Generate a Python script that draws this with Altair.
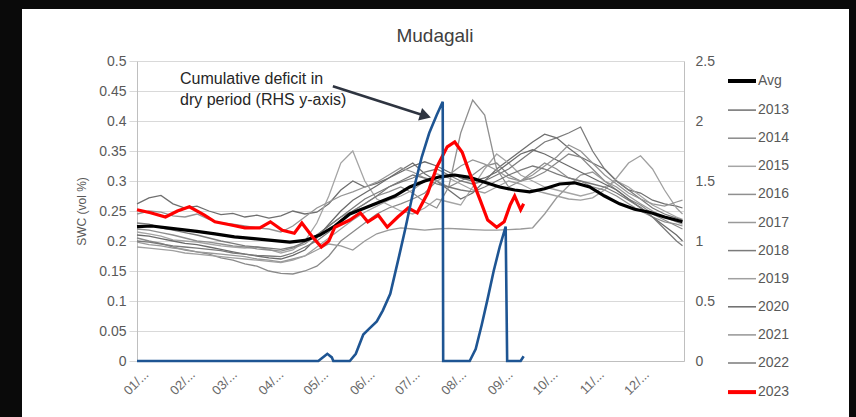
import altair as alt
import pandas as pd

# ---------------- data ----------------
SERIES = ["Avg", "2013", "2014", "2015", "2016", "2017", "2018", "2019", "2020", "2021", "2022", "2023"]
COLORS = ["#000000", "#6f6f6f", "#8a8a8a", "#a5a5a5", "#8f8f8f", "#999999",
          "#7b7b7b", "#a0a0a0", "#6b6b6b", "#959595", "#7a7a7a", "#ff0000"]

GRAY_DAYS = [0, 8, 16, 24, 32, 40, 48, 56, 64, 72, 80, 88, 96, 104, 112, 120, 128, 136, 144, 152,
             160, 168, 176, 184, 192, 200, 208, 216, 224, 232, 240, 248, 256, 264, 272, 280, 288,
             296, 304, 312, 320, 328, 336, 344, 352, 360, 364]

S2013 = [0.262, 0.272, 0.276, 0.262, 0.255, 0.258, 0.250, 0.244, 0.246, 0.240, 0.243, 0.238, 0.242, 0.250, 0.245,
         0.248, 0.262, 0.285, 0.300, 0.290, 0.296, 0.305, 0.318, 0.330, 0.312, 0.300, 0.285, 0.270, 0.280, 0.300,
         0.320, 0.335, 0.350, 0.365, 0.378, 0.372, 0.355, 0.340, 0.330, 0.320, 0.300, 0.285, 0.280, 0.268, 0.262,
         0.258, 0.255]
S2014 = [0.205, 0.200, 0.196, 0.190, 0.185, 0.182, 0.178, 0.172, 0.168, 0.162, 0.158, 0.150, 0.146, 0.145, 0.150,
         0.158, 0.175, 0.200, 0.215, 0.230, 0.245, 0.255, 0.262, 0.270, 0.280, 0.300, 0.290, 0.300, 0.310, 0.325,
         0.330, 0.310, 0.300, 0.305, 0.315, 0.330, 0.345, 0.340, 0.320, 0.300, 0.285, 0.270, 0.260, 0.245, 0.235,
         0.225, 0.220]
S2015 = [0.215, 0.212, 0.208, 0.202, 0.200, 0.198, 0.195, 0.192, 0.190, 0.188, 0.190, 0.186, 0.180, 0.185, 0.200,
         0.230, 0.275, 0.330, 0.350, 0.300, 0.270, 0.260, 0.250, 0.245, 0.255, 0.270, 0.265, 0.260, 0.290, 0.320,
         0.345, 0.330, 0.310, 0.300, 0.290, 0.285, 0.280, 0.275, 0.280, 0.290, 0.300, 0.290, 0.275, 0.260, 0.250,
         0.240, 0.236]
S2016 = [0.220, 0.218, 0.214, 0.210, 0.205, 0.200, 0.198, 0.195, 0.192, 0.190, 0.187, 0.185, 0.183, 0.188, 0.195,
         0.210, 0.225, 0.240, 0.250, 0.262, 0.275, 0.282, 0.290, 0.280, 0.265, 0.255, 0.290, 0.380, 0.435, 0.410,
         0.320, 0.290, 0.300, 0.315, 0.330, 0.320, 0.305, 0.300, 0.290, 0.285, 0.275, 0.262, 0.250, 0.240, 0.232,
         0.228, 0.225]
S2017 = [0.198, 0.194, 0.192, 0.188, 0.186, 0.182, 0.180, 0.178, 0.176, 0.174, 0.170, 0.168, 0.165, 0.170, 0.175,
         0.185, 0.195, 0.192, 0.185, 0.200, 0.212, 0.218, 0.222, 0.220, 0.218, 0.220, 0.221, 0.220, 0.219, 0.218,
         0.218, 0.219, 0.220, 0.222, 0.245, 0.272, 0.292, 0.310, 0.315, 0.300, 0.290, 0.275, 0.262, 0.250, 0.240,
         0.232, 0.228]
S2018 = [0.230, 0.228, 0.222, 0.218, 0.214, 0.210, 0.205, 0.200, 0.196, 0.192, 0.190, 0.188, 0.186, 0.190, 0.198,
         0.210, 0.225, 0.240, 0.255, 0.270, 0.280, 0.290, 0.298, 0.305, 0.315, 0.320, 0.310, 0.300, 0.295, 0.300,
         0.310, 0.320, 0.335, 0.350, 0.365, 0.372, 0.380, 0.390, 0.350, 0.320, 0.300, 0.285, 0.270, 0.255, 0.245,
         0.238, 0.235]
S2019 = [0.190, 0.188, 0.186, 0.184, 0.180, 0.178, 0.176, 0.174, 0.172, 0.170, 0.168, 0.166, 0.164, 0.168, 0.175,
         0.190, 0.205, 0.220, 0.235, 0.248, 0.258, 0.268, 0.275, 0.285, 0.300, 0.312, 0.305, 0.295, 0.285, 0.280,
         0.290, 0.300, 0.295, 0.285, 0.280, 0.275, 0.270, 0.268, 0.272, 0.285, 0.305, 0.330, 0.342, 0.320, 0.285,
         0.255, 0.245]
S2020 = [0.210, 0.208, 0.204, 0.200, 0.196, 0.194, 0.190, 0.186, 0.182, 0.178, 0.175, 0.172, 0.170, 0.176, 0.185,
         0.205, 0.228, 0.250, 0.268, 0.280, 0.292, 0.305, 0.315, 0.325, 0.332, 0.325, 0.315, 0.305, 0.300, 0.305,
         0.315, 0.330, 0.345, 0.352, 0.345, 0.335, 0.325, 0.315, 0.305, 0.295, 0.285, 0.270, 0.255, 0.240, 0.225,
         0.210, 0.200]
S2021 = [0.245, 0.250, 0.248, 0.242, 0.240, 0.245, 0.236, 0.230, 0.228, 0.225, 0.222, 0.220, 0.215, 0.225, 0.240,
         0.255, 0.265, 0.275, 0.282, 0.290, 0.298, 0.310, 0.322, 0.315, 0.305, 0.300, 0.310, 0.325, 0.335, 0.328,
         0.318, 0.305, 0.300, 0.310, 0.325, 0.340, 0.360, 0.350, 0.330, 0.310, 0.295, 0.280, 0.270, 0.262, 0.258,
         0.265, 0.268]
S2022 = [0.200, 0.198, 0.195, 0.192, 0.190, 0.188, 0.186, 0.184, 0.180, 0.178, 0.176, 0.175, 0.174, 0.180, 0.190,
         0.200, 0.215, 0.235, 0.250, 0.262, 0.275, 0.290, 0.300, 0.310, 0.305, 0.295, 0.290, 0.285, 0.282, 0.290,
         0.300, 0.310, 0.318, 0.325, 0.320, 0.312, 0.305, 0.300, 0.295, 0.290, 0.280, 0.268, 0.256, 0.240, 0.220,
         0.200, 0.192]

AVG_DAYS = [0, 10, 20, 30, 40, 52, 65, 78, 90, 102, 112, 122, 132, 142, 152, 162, 172, 182, 192, 202, 212, 222,
            232, 242, 252, 262, 272, 282, 292, 302, 312, 322, 332, 342, 352, 364]
AVG = [0.224, 0.225, 0.222, 0.219, 0.216, 0.212, 0.207, 0.204, 0.201, 0.198, 0.201, 0.210, 0.225, 0.245, 0.255,
       0.265, 0.275, 0.290, 0.300, 0.307, 0.310, 0.306, 0.298, 0.290, 0.285, 0.282, 0.287, 0.295, 0.297, 0.290,
       0.275, 0.262, 0.253, 0.248, 0.240, 0.232]

Y2023_DAYS = [0, 9, 19, 27, 35, 45, 52, 62, 72, 82, 89, 97, 105, 110, 117, 123, 128, 132, 142, 149, 154, 161,
              167, 174, 181, 187, 194, 200, 207, 212, 217, 222, 229, 234, 240, 245, 249, 252, 256, 258]
Y2023 = [0.252, 0.247, 0.240, 0.250, 0.257, 0.243, 0.232, 0.227, 0.222, 0.222, 0.232, 0.218, 0.213, 0.230, 0.207,
         0.190, 0.200, 0.223, 0.235, 0.247, 0.232, 0.243, 0.223, 0.240, 0.255, 0.247, 0.280, 0.323, 0.357, 0.365,
         0.348, 0.313, 0.268, 0.235, 0.223, 0.232, 0.260, 0.275, 0.252, 0.262]

DEF_DAYS = [0, 121, 125, 127, 130, 131, 142, 146, 151, 155, 160, 164, 169, 172, 175, 179, 185, 190, 195, 200,
            204, 204.3, 222, 226, 230, 234, 238, 242, 246, 247, 256, 258]
DEFICIT = [0, 0, 0.04, 0.06, 0.03, 0, 0, 0.06, 0.22, 0.27, 0.33, 0.42, 0.56, 0.72, 0.88, 1.10, 1.45, 1.70,
           1.90, 2.05, 2.16, 0, 0, 0.10, 0.30, 0.52, 0.75, 0.95, 1.12, 0, 0, 0.04]

MONTH_DAYS = [0, 31, 59, 90, 120, 151, 181, 212, 243, 273, 304, 334]
MONTH_LABELS = ["01/...", "02/...", "03/...", "04/...", "05/...", "06/...",
                "07/...", "08/...", "09/...", "10/...", "11/...", "12/..."]
LEFT_TICKS = [0, 0.05, 0.1, 0.15, 0.2, 0.25, 0.3, 0.35, 0.4, 0.45, 0.5]
RIGHT_TICKS = [0, 0.5, 1, 1.5, 2, 2.5]

TITLE = "Mudagali"
ANNOT_TEXT = ["Cumulative deficit in", "dry period (RHS y-axis)"]
ANNOT_POS = [28.7, 0.4617]
ARROW_START = [130.7, 0.458]
ARROW_END = [190.0, 0.4105]
ARROW_HEAD = [192.5, 0.4085]

FONT = "Liberation Sans"

# ---------------- tables ----------------
gray_rows = []
for name, vals in zip(SERIES[1:11], [S2013, S2014, S2015, S2016, S2017, S2018, S2019, S2020, S2021, S2022]):
    for d, v in zip(GRAY_DAYS, vals):
        gray_rows.append({"day": d, "swc": v, "series": name})
gray_df = pd.DataFrame(gray_rows)
avg_df = pd.DataFrame({"day": AVG_DAYS, "swc": AVG, "series": "Avg"})
red_df = pd.DataFrame({"day": Y2023_DAYS, "swc": Y2023, "series": "2023"})
def_df = pd.DataFrame({"day": DEF_DAYS, "deficit": DEFICIT, "i": list(range(len(DEF_DAYS)))})
annot_df = pd.DataFrame({"day": [ANNOT_POS[0]], "swc": [ANNOT_POS[1]], "t": [ANNOT_TEXT]})
arrow_df = pd.DataFrame({"day": [ARROW_START[0]], "swc": [ARROW_START[1]],
                         "day2": [ARROW_END[0]], "swc2": [ARROW_END[1]]})
head_df = pd.DataFrame({"day": [ARROW_HEAD[0]], "swc": [ARROW_HEAD[1]]})
one_df = pd.DataFrame({"t": [TITLE]})

label_expr = ("[" + ",".join("'%s'" % s for s in MONTH_LABELS) + "][indexof(["
              + ",".join(str(d) for d in MONTH_DAYS) + "], datum.value)]")

x_enc = alt.X("day:Q",
              scale=alt.Scale(domain=[0, 365], nice=False, zero=False),
              axis=alt.Axis(title=None, values=MONTH_DAYS, labelExpr=label_expr, labelAngle=-45,
                            labelAlign="right", labelBaseline="middle", labelFontSize=13,
                            labelColor="#6a6a6a", ticks=False, grid=False, domainColor="#bfbfbf",
                            labelPadding=11, labelOffset=9, labelFont=FONT))
y_scale = alt.Scale(domain=[0, 0.5], nice=False, zero=True)
y_enc = alt.Y("swc:Q", scale=y_scale,
              axis=alt.Axis(title="SWC (vol %)", titleFontSize=12, titleFontWeight="normal",
                            titleColor="#595959", titlePadding=10, titleFont=FONT,
                            values=LEFT_TICKS, format="~g", labelFontSize=14, labelColor="#595959",
                            labelFont=FONT, grid=True, gridColor="#d9d9d9", domainColor="#bfbfbf",
                            tickColor="#d9d9d9", tickSize=8, labelPadding=3))

color_enc = alt.Color("series:N",
                      scale=alt.Scale(domain=SERIES, range=COLORS),
                      legend=alt.Legend(title=None, orient="none", legendX=598, legendY=13,
                                        symbolType="stroke", symbolSize=784, rowPadding=14.1,
                                        labelFontSize=14, labelColor="#595959", labelFont=FONT,
                                        labelOffset=9,
                                        symbolStrokeWidth=alt.ExprRef(
                                            "datum.value === 'Avg' || datum.value === '2023' ? 4 : 1.5")))

# black frame around the white chart panel
frame_top = alt.Chart(one_df).mark_rect(color="#0a0a0a").encode(
    x=alt.value(-137), x2=alt.value(719), y=alt.value(-61), y2=alt.value(-52))
frame_left = alt.Chart(one_df).mark_rect(color="#0a0a0a").encode(
    x=alt.value(-137), x2=alt.value(-115), y=alt.value(-61), y2=alt.value(356))
frame_right = alt.Chart(one_df).mark_rect(color="#0a0a0a").encode(
    x=alt.value(712), x2=alt.value(719), y=alt.value(-61), y2=alt.value(356))
title = alt.Chart(one_df).mark_text(fontSize=19, font=FONT, color="#404040", align="center",
                                    baseline="alphabetic").encode(
    x=alt.value(298), y=alt.value(-19), text="t:N")

gray = alt.Chart(gray_df).mark_line(strokeWidth=1.3).encode(
    x=x_enc, y=y_enc, color=color_enc, detail="series:N")
avg = alt.Chart(avg_df).mark_line(strokeWidth=3.2).encode(x=x_enc, y=y_enc, color=color_enc)
red = alt.Chart(red_df).mark_line(strokeWidth=3.2).encode(x=x_enc, y=y_enc, color=color_enc)

annot = alt.Chart(annot_df).mark_text(align="left", baseline="alphabetic", fontSize=16, font=FONT,
                                      color="#262626", lineHeight=21).encode(
    x=x_enc, y=y_enc, text="t")
arrow = alt.Chart(arrow_df).mark_rule(color="#2e3440", strokeWidth=2.5).encode(
    x=x_enc, y=y_enc, x2="day2:Q", y2="swc2:Q")
head = alt.Chart(head_df).mark_point(shape="triangle-right", angle=17.7, size=170, filled=True,
                                     opacity=1, color="#2e3440").encode(x=x_enc, y=y_enc)

swc_layer = alt.layer(gray, avg, red, annot, arrow, head)

blue = alt.Chart(def_df).mark_line(color="#1e5593", strokeWidth=2.6).encode(
    x=x_enc,
    y=alt.Y("deficit:Q", scale=alt.Scale(domain=[0, 2.5], nice=False, zero=True),
            axis=alt.Axis(orient="right", title=None, values=RIGHT_TICKS, format="~g",
                          labelFontSize=14, labelColor="#595959", labelFont=FONT, grid=False,
                          ticks=False, labelPadding=11, domainColor="#bfbfbf")),
    order="i:Q")

chart = alt.layer(swc_layer, blue, frame_top, frame_left, frame_right, title).resolve_scale(
    y="independent").properties(
    width=547, height=300,
    padding={"left": 137, "top": 61, "right": 172, "bottom": 56},
    autosize=alt.AutoSizeParams(type="none"),
    background="white",
).configure_view(stroke="transparent")

chart.save("out.html", embed_options={"renderer": "svg", "actions": False})
